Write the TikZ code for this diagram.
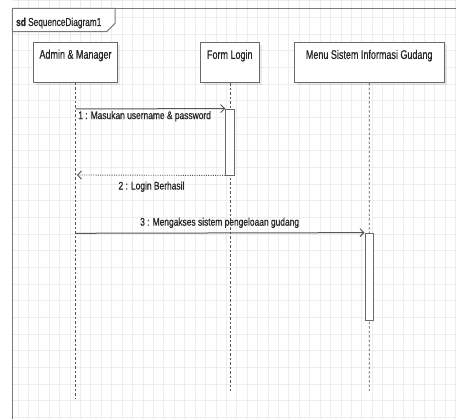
\documentclass[tikz,border=0pt]{standalone}
\usepackage{fontspec}
\setmainfont{Liberation Sans}[FakeStretch=0.765,FakeBold=0.6]
\newfontfamily\namefont{Liberation Sans}[FakeStretch=0.72,FakeBold=0.6]
\usetikzlibrary{arrows.meta,shadows}
\definecolor{gridgray}{HTML}{EDEDED}
\definecolor{framegray}{HTML}{7A7A7A}
\definecolor{boxgray}{HTML}{6A6A6A}
\definecolor{inkgray}{HTML}{262626}
\definecolor{linegray}{HTML}{555555}

\begin{document}
\begin{tikzpicture}[x=1pt,y=-1pt,
  lifebox/.style={draw=boxgray, line width=1.1pt, fill=white,
    minimum width=#1, minimum height=40pt, inner sep=0pt,
    drop shadow={shadow xshift=2.5pt, shadow yshift=-2.5pt, fill=black, opacity=0.08}},
  boxtext/.style={inner sep=0pt, text=inkgray, font=\namefont\fontsize{12.5}{14}\selectfont},
  lifeline/.style={draw=linegray, line width=0.8pt, dash pattern=on 2.5pt off 2pt},
  activation/.style={draw=boxgray, line width=0.9pt, fill=white,
    minimum width=8.3pt, inner sep=0pt},
  callmsg/.style={draw=linegray, line width=1pt,
    -{Straight Barb[length=4pt,width=8pt,line width=0.9pt]}},
  replymsg/.style={draw=linegray, line width=0.9pt, dash pattern=on 1pt off 1.3pt,
    -{Straight Barb[length=4pt,width=8pt,line width=0.9pt,sep]}},
  msgtext/.style={inner sep=0pt, anchor=base, text=inkgray, font=\fontsize{11}{13}\selectfont},
]
\useasboundingbox (0,0) rectangle (456,419);
\fill[white] (0,0) rectangle (456,419);

% background grid
\begin{scope}
  \clip (12.3,0) rectangle (456,419);
  \foreach \i in {0,...,43}
    \draw[gridgray, line width=0.7pt] ({7.46+10.42*\i},0) -- ++(0,419);
  \foreach \j in {0,...,25}
    \draw[gridgray, line width=0.7pt] (0,{0.6+16.67*\j}) -- ++(456,0);
\end{scope}

% diagram frame and its name tab
\draw[framegray, line width=1.3pt] (12.3,419) -- (12.3,8.3) -- (456,8.3);
\draw[framegray, line width=1pt, fill=white]
  (12.3,8.3) -- (115,8.3) -- (115,23.3) -- (106.7,31.7) -- (12.3,31.7) -- cycle;
\node[inner sep=0pt, anchor=base west, text=inkgray,
  font=\namefont\fontsize{11.5}{13}\selectfont] (title) at (16,26)
  {\textbf{sd} SequenceDiagram1};

% participants
\node[lifebox=84.4pt] (admin) at (75.5,62.3) {};
\node[boxtext, anchor=north] (adminlbl) at ([yshift=-7.7pt]admin.north) {Admin \& Manager};
\node[lifebox=59pt] (form) at (229.8,62.5) {};
\node[boxtext, anchor=north] (formlbl) at ([yshift=-7.7pt]form.north) {Form Login};
\node[lifebox=150.3pt] (menu) at (369.2,62.5) {};
\node[boxtext, anchor=north] (menulbl) at ([yshift=-7.7pt]menu.north) {Menu Sistem Informasi Gudang};

% lifelines
\coordinate (adminend) at (75.8,398);
\coordinate (formend) at (230.5,391);
\coordinate (menuend) at (369.3,391);
\draw[lifeline] ([xshift=0.3pt]admin.south) -- (adminend);
\draw[lifeline] ([xshift=0.7pt]form.south) -- (formend);
\draw[lifeline] (menu.south) -- (menuend);

% activation bars
\node[activation, minimum height=66pt] (formact) at (229.9,142) {};
\node[activation, minimum height=87pt] (menuact) at (369.2,276.6) {};

% message anchors on the actor lifeline
\coordinate (m1start) at (75.8,109);
\coordinate (m2end) at (75.8,175);
\coordinate (m3start) at (75.8,233.3);

% messages
\draw[callmsg] (m1start) -- (formact.north west)
  node[msgtext, pos=0.46, yshift=-10.3pt] (m1lbl) {1 : Masukan username \& password};
\draw[replymsg] (formact.south west) -- (m2end)
  node[msgtext, pos=0.494, yshift=-14.3pt] (m2lbl) {2 : Login Berhasil};
\draw[callmsg] (m3start) -- (menuact.north west)
  node[msgtext, pos=0.498, yshift=7.3pt] (m3lbl) {3 : Mengakses sistem pengeloaan gudang};
\end{tikzpicture}
\end{document}
